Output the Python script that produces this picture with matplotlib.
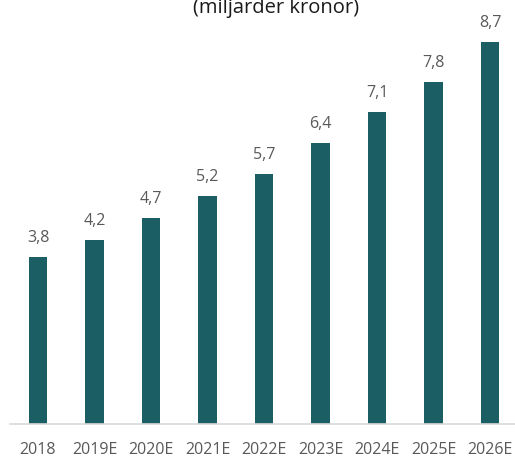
import matplotlib
matplotlib.use("Agg")
import matplotlib.pyplot as plt

categories = ["2018", "2019E", "2020E", "2021E", "2022E", "2023E", "2024E", "2025E", "2026E"]
values = [3.8, 4.2, 4.7, 5.2, 5.7, 6.4, 7.1, 7.8, 8.7]
labels = ["3,8", "4,2", "4,7", "5,2", "5,7", "6,4", "7,1", "7,8", "8,7"]
title = "(miljarder kronor)"

plt.rcParams['font.family'] = ['Open Sans', 'DejaVu Sans']

W, H = 515, 459
fig = plt.figure(figsize=(W / 100, H / 100), dpi=100)
L, R = 9.75, 518.25
bottom_px = 424
ymax = 9.5
scale = 43.9
ax = fig.add_axes([L / W, (H - bottom_px) / H, (R - L) / W, ymax * scale / H])

x = list(range(len(categories)))
bars = ax.bar(x, values, width=0.32, color="#1b5e63")
ax.set_xlim(-0.5, len(categories) - 0.5)
ax.set_ylim(0, ymax)

for xi, v, lab in zip(x, values, labels):
    ax.annotate(lab, (xi, v), xytext=(0, 10.8), textcoords="offset points",
                ha="center", va="baseline", fontsize=11.5, color="#595959")

ax.set_xticks(x)
ax.set_xticklabels(categories, fontsize=11.5, color="#595959")
ax.tick_params(axis="x", length=0, pad=13)
ax.set_yticks([])
for s in ["top", "right", "left"]:
    ax.spines[s].set_visible(False)
ax.spines["bottom"].set_color("#d9d9d9")
ax.spines["bottom"].set_linewidth(1.2)

fig.text(276 / W, 1 - 13.5 / H, title, ha="center", va="baseline",
         fontsize=14.5, fontweight="medium", color="#1a1a1a")

fig.savefig("out.png", dpi=100)
